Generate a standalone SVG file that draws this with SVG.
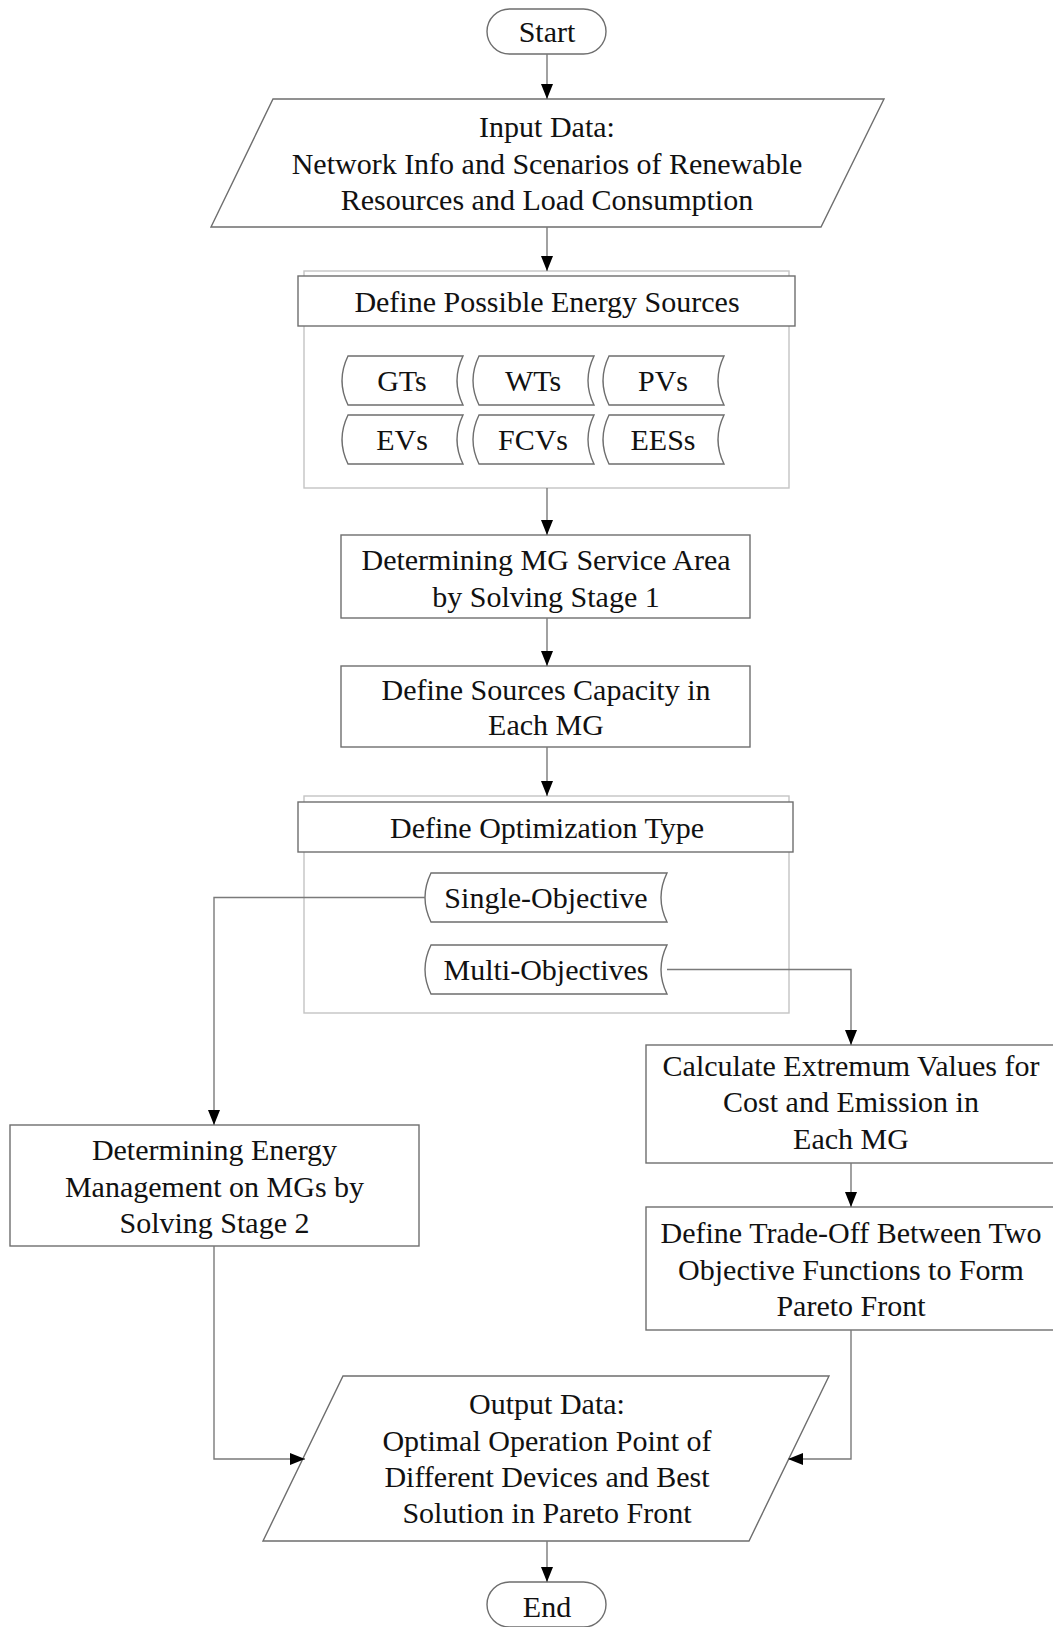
<svg xmlns="http://www.w3.org/2000/svg" xmlns:xlink="http://www.w3.org/1999/xlink" width="1053" height="1627" viewBox="0 0 1053 1627">
<style>
  .box { fill: #ffffff; stroke: #6e6e6e; stroke-width: 1.4; }
  .cont { fill: #ffffff; stroke: #c4c4c4; stroke-width: 1.4; }
  .conn { fill: none; stroke: #7a7a7a; stroke-width: 1.4; }
  text { font-family: "Liberation Serif", "Times New Roman", serif; font-size: 30px; fill: #111111; text-anchor: middle; }
</style>
<defs>
  <marker id="arr" markerUnits="userSpaceOnUse" markerWidth="15" markerHeight="12" refX="15" refY="6" orient="auto">
    <path d="M0,0 L15,6 L0,12 Z" fill="#000000"/>
  </marker>
  <path id="tapeS" d="M6,0 L121,0 Q109,24.5 121,49 L6,49 Q-6,24.5 6,0 Z"/>
  <path id="tapeL" d="M6,0 L242,0 Q230,24.5 242,49 L6,49 Q-6,24.5 6,0 Z"/>
</defs>
<rect width="1053" height="1627" fill="#ffffff"/>

<g id="start">
  <rect class="box" x="487" y="9" width="119" height="45" rx="22.5"/>
  <text x="547" y="41.5">Start</text>
</g>

<g id="input">
  <polygon class="box" points="273,99 884,99 821,227 211,227"/>
  <text x="547" y="137">Input Data:</text>
  <text x="547" y="173.5">Network Info and Scenarios of Renewable</text>
  <text x="547" y="209.5">Resources and Load Consumption</text>
</g>

<g id="energy-sources">
  <rect class="cont" x="304" y="271" width="485" height="217"/>
  <rect class="box" x="298" y="276" width="497" height="50"/>
  <text x="547" y="311.5">Define Possible Energy Sources</text>
  <g id="gts"><use xlink:href="#tapeS" class="box" x="342" y="356"/><text x="402" y="391">GTs</text></g>
  <g id="wts"><use xlink:href="#tapeS" class="box" x="473" y="356"/><text x="533" y="391">WTs</text></g>
  <g id="pvs"><use xlink:href="#tapeS" class="box" x="603" y="356"/><text x="663" y="391">PVs</text></g>
  <g id="evs"><use xlink:href="#tapeS" class="box" x="342" y="415"/><text x="402" y="450">EVs</text></g>
  <g id="fcvs"><use xlink:href="#tapeS" class="box" x="473" y="415"/><text x="533" y="450">FCVs</text></g>
  <g id="eess"><use xlink:href="#tapeS" class="box" x="603" y="415"/><text x="663" y="450">EESs</text></g>
</g>

<g id="stage1">
  <rect class="box" x="341" y="535" width="409" height="83"/>
  <text x="546" y="569.5">Determining MG Service Area</text>
  <text x="546" y="607">by Solving Stage 1</text>
</g>

<g id="capacity">
  <rect class="box" x="341" y="666" width="409" height="81"/>
  <text x="546" y="699.5">Define Sources Capacity in</text>
  <text x="546" y="734.5">Each MG</text>
</g>

<g id="optimization-type">
  <rect class="cont" x="304" y="796" width="485" height="217"/>
  <rect class="box" x="298" y="802" width="495" height="50"/>
  <text x="547" y="838">Define Optimization Type</text>
  <g id="single"><use xlink:href="#tapeL" class="box" x="425" y="873"/><text x="546" y="908">Single-Objective</text></g>
  <g id="multi"><use xlink:href="#tapeL" class="box" x="425" y="945"/><text x="546" y="980">Multi-Objectives</text></g>
</g>

<g id="stage2">
  <rect class="box" x="10" y="1125" width="409" height="121"/>
  <text x="214.5" y="1160">Determining Energy</text>
  <text x="214.5" y="1196.5">Management on MGs by</text>
  <text x="214.5" y="1232.5">Solving Stage 2</text>
</g>

<g id="extremum">
  <rect class="box" x="646" y="1045" width="410" height="118"/>
  <text x="851" y="1076">Calculate Extremum Values for</text>
  <text x="851" y="1112">Cost and Emission in</text>
  <text x="851" y="1148.5">Each MG</text>
</g>

<g id="tradeoff">
  <rect class="box" x="646" y="1207" width="410" height="123"/>
  <text x="851" y="1243">Define Trade-Off Between Two</text>
  <text x="851" y="1279.5">Objective Functions to Form</text>
  <text x="851" y="1315.5">Pareto Front</text>
</g>

<g id="output">
  <polygon class="box" points="343,1376 829,1376 749,1541 263,1541"/>
  <text x="547" y="1414">Output Data:</text>
  <text x="547" y="1450.5">Optimal Operation Point of</text>
  <text x="547" y="1486.5">Different Devices and Best</text>
  <text x="547" y="1523">Solution in Pareto Front</text>
</g>

<g id="end">
  <rect class="box" x="487" y="1582" width="119" height="45" rx="22.5"/>
  <text x="547" y="1616.5">End</text>
</g>

<g id="connectors">
  <path class="conn" d="M547,54 L547,99" marker-end="url(#arr)"/>
  <path class="conn" d="M547,227 L547,271" marker-end="url(#arr)"/>
  <path class="conn" d="M547,488 L547,535" marker-end="url(#arr)"/>
  <path class="conn" d="M547,618 L547,666" marker-end="url(#arr)"/>
  <path class="conn" d="M547,747 L547,796" marker-end="url(#arr)"/>
  <path class="conn" d="M425,897.5 L214,897.5 L214,1125" marker-end="url(#arr)"/>
  <path class="conn" d="M667,969.5 L851,969.5 L851,1045" marker-end="url(#arr)"/>
  <path class="conn" d="M851,1163 L851,1207" marker-end="url(#arr)"/>
  <path class="conn" d="M214,1246 L214,1459 L305,1459" marker-end="url(#arr)"/>
  <path class="conn" d="M851,1330 L851,1459 L788,1459" marker-end="url(#arr)"/>
  <path class="conn" d="M547,1541 L547,1582" marker-end="url(#arr)"/>
</g>
</svg>
